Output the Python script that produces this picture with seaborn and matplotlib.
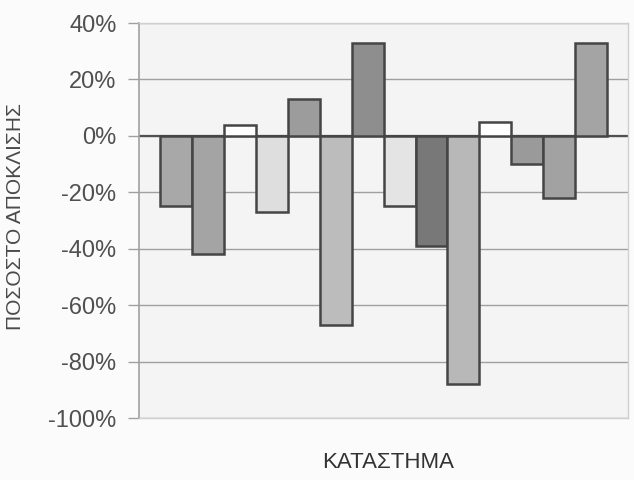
import matplotlib
matplotlib.use("Agg")
import matplotlib.pyplot as plt
import seaborn as sns
import pandas as pd
from matplotlib.ticker import FuncFormatter

# ---- data ----
stores = [f"S{i}" for i in range(1, 15)]
deviation = [-25, -42, 4, -27, 13, -67, 33, -25, -39, -88, 5, -10, -22, 33]
bar_colors = ["#a8a8a8", "#a4a4a4", "#ffffff", "#dedede", "#9c9c9c", "#bcbcbc",
              "#8e8e8e", "#e4e4e4", "#787878", "#b8b8b8", "#ffffff", "#9a9a9a",
              "#a2a2a2", "#a4a4a4"]
y_ticks = [40, 20, 0, -20, -40, -60, -80, -100]
x_title = "ΚΑΤΑΣΤΗΜΑ"
y_title = "ΠΟΣΟΣΤΟ ΑΠΟΚΛΙΣΗΣ"

df = pd.DataFrame({"store": stores, "dev": deviation})

sns.set_style("white")
plt.rcParams["font.family"] = ["Liberation Sans", "DejaVu Sans"]

fig = plt.figure(figsize=(6.34, 4.8), dpi=100, facecolor="#fbfbfb")
ax = fig.add_axes([0.219, 0.129, 0.772, 0.823])
ax.set_facecolor("#f4f4f4")

sns.barplot(data=df, x="store", y="dev", hue="store", palette=bar_colors,
            width=1.0, edgecolor="#454545", linewidth=1.8, legend=False,
            ax=ax, zorder=3)

ax.set_ylim(-100, 40)
ax.set_xlim(-1.16, len(stores) - 1 + 1.16)
ax.set_yticks(y_ticks)
ax.yaxis.set_major_formatter(FuncFormatter(lambda v, p: f"{int(v)}%"))
ax.grid(axis="y", color="#a0a0a0", linewidth=1.0, zorder=0)
ax.set_axisbelow(True)
ax.axhline(0, color="#505050", linewidth=1.6, zorder=2)

ax.set_xticks([])
ax.tick_params(axis="y", direction="out", length=8, width=1, color="#a0a0a0",
               labelsize=17, labelcolor="#505050", pad=8, left=True)

for side in ["left"]:
    ax.spines[side].set_color("#a0a0a0")
    ax.spines[side].set_linewidth(1.2)
for side in ["top", "right", "bottom"]:
    ax.spines[side].set_color("#d0d0d0")
    ax.spines[side].set_linewidth(1.0)

ax.set_xlabel(x_title, fontsize=16, color="#333333")
ax.set_ylabel(y_title, fontsize=15, color="#4a4a4a")
ax.xaxis.set_label_coords(0.51, -0.085)
ax.yaxis.set_label_coords(-0.232, 0.51)

fig.savefig("out.png", dpi=100, facecolor=fig.get_facecolor())
